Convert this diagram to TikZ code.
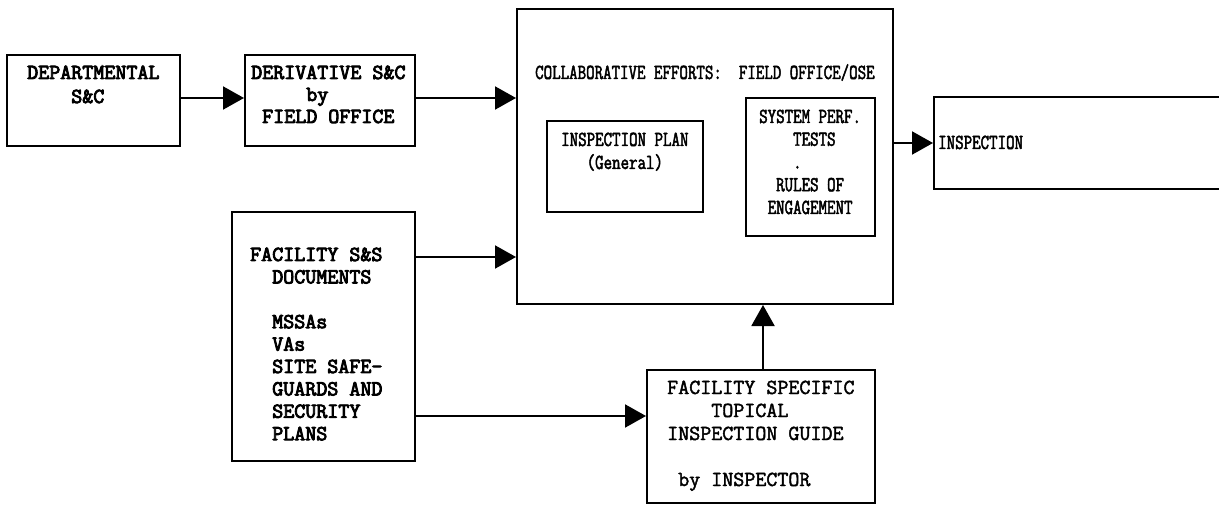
\documentclass[tikz,border=0pt]{standalone}
\usepackage{fontspec}
\newfontfamily\tw[FakeBold=2]{Latin Modern Mono}
\newfontfamily\twb[FakeBold=4]{Latin Modern Mono}
\newfontfamily\twn[FakeStretch=0.77,FakeBold=2.2]{Latin Modern Mono}
\usetikzlibrary{arrows.meta}
\begin{document}
\begin{tikzpicture}[x=1pt,y=-1pt,
  box/.style={draw=black, line width=2pt, inner sep=0pt},
  txtb/.style={anchor=base west, inner sep=0pt, font=\fontsize{21.4}{#1}\selectfont\twb},
  txtr/.style={anchor=base west, inner sep=0pt, font=\fontsize{21.4}{#1}\selectfont\tw},
  txtn/.style={anchor=base west, inner sep=0pt, font=\fontsize{21.4}{#1}\selectfont\twn},
  arr/.style={draw=black, line width=2pt, -{Triangle[length=21pt,width=23pt]}}]
\path[use as bounding box, fill=white] (0,0) rectangle (1219,505);
\clip (0,0) rectangle (1219,505);
% boxes
\node[box, minimum width=173pt, minimum height=91pt] (dept) at (93.5,100.5) {};
\node[box, minimum width=170pt, minimum height=91pt] (deriv) at (330,100.5) {};
\node[box, minimum width=376pt, minimum height=295pt] (big) at (705,156.5) {};
\node[box, minimum width=156pt, minimum height=91pt] (plan) at (625,166.5) {};
\node[box, minimum width=129pt, minimum height=138pt] (sys) at (810.5,167) {};
\node[box, minimum width=306pt, minimum height=92pt] (insp) at (1087,143) {};
\node[box, minimum width=183pt, minimum height=249pt] (fac) at (323.5,336.5) {};
\node[box, minimum width=228pt, minimum height=133pt] (guide) at (761,436.5) {};
% texts
\node[txtb=24pt] (tdept) at (27,79) {\begin{tabular}[t]{@{}l@{}}DEPARTMENTAL\\\hphantom{MMMM}S\&C\end{tabular}};
\node[txtb=22pt] (tderiv) at (251,79) {\begin{tabular}[t]{@{}l@{}}DERIVATIVE S\&C\\\hphantom{MMMMM}by\\\hphantom{M}FIELD OFFICE\end{tabular}};
\node[txtb=22.4pt] (tfac) at (250,261) {\begin{tabular}[t]{@{}l@{}}FACILITY S\&S\\\hphantom{MM}DOCUMENTS\\ \\\hphantom{MM}MSSAs\\\hphantom{MM}VAs\\\hphantom{MM}SITE SAFE-\\\hphantom{MM}GUARDS AND\\\hphantom{MM}SECURITY\\\hphantom{MM}PLANS\end{tabular}};
\node[txtn=22pt] (ttitle) at (535,79) {COLLABORATIVE EFFORTS:\ \ FIELD OFFICE/OSE};
\node[txtn=23pt] (tplan) at (561,146) {\begin{tabular}[t]{@{}l@{}}INSPECTION PLAN\\\hphantom{MMM}(General)\end{tabular}};
\node[txtn=22.75pt] (tsys) at (759,123) {\begin{tabular}[t]{@{}l@{}}SYSTEM PERF.\\\hphantom{MMMM}TESTS\\\hphantom{MMMM}.\\\hphantom{MM}RULES OF\\\hphantom{M}ENGAGEMENT\end{tabular}};
\node[txtn=22pt] (tinsp) at (938,149) {INSPECTION};
\node[txtr=23pt] (tguide) at (667,394) {\begin{tabular}[t]{@{}l@{}}FACILITY SPECIFIC\\\hphantom{MMMM}TOPICAL\\INSPECTION GUIDE\\ \\\hphantom{M}by INSPECTOR\end{tabular}};
% connectors
\draw[arr] (dept.east |- 0,98) -- (deriv.west |- 0,98);
\draw[arr] (deriv.east |- 0,98) -- (big.west |- 0,98);
\draw[arr] (fac.east |- 0,257) -- (big.west |- 0,257);
\draw[arr] (big.east |- 0,143) -- (insp.west |- 0,143);
\draw[arr] (fac.east |- 0,416) -- (guide.west |- 0,416);
\draw[arr] (763,0 |- guide.north) -- (763,0 |- big.south);
\end{tikzpicture}
\end{document}
